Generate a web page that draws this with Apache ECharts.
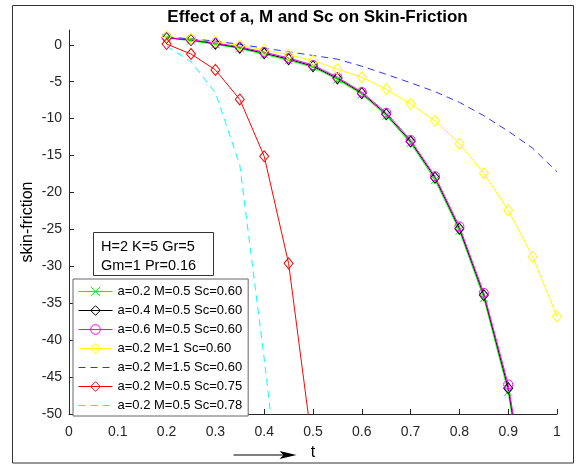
<!DOCTYPE html>
<html>
<head>
<meta charset="utf-8">
<title>Skin-Friction</title>
<script src="https://cdn.jsdelivr.net/npm/echarts@6/dist/echarts.min.js"></script>
<style>
  html, body { margin: 0; padding: 0; background: #fff; }
  #skinFriction { width: 578px; height: 466px; }
</style>
</head>
<body>
<div id="skinFriction"></div>
<script>
// values, t = 0.2 ... 1.0 step 0.05
const tValues = [0.2, 0.25, 0.3, 0.35, 0.4, 0.45, 0.5, 0.55, 0.6, 0.65, 0.7, 0.75, 0.8, 0.85, 0.9, 0.95, 1.0];
const a02M05 = [0.9, 0.55, 0.05, -0.5, -1.3, -2.1, -3.05, -4.7, -6.7, -9.6, -13.3, -18.3, -25.2, -34.3, -47.0, -68, -96];
const a04M05 = [0.95, 0.65, 0.15, -0.4, -1.15, -1.95, -2.9, -4.55, -6.55, -9.4, -13.1, -18.0, -24.9, -33.9, -46.5, -67, -94];
const a06M05 = [1.0, 0.7, 0.25, -0.3, -1.0, -1.8, -2.75, -4.4, -6.4, -9.2, -12.9, -17.8, -24.6, -33.6, -46.0, -66, -93];
const a02M1 = [1.1, 0.8, 0.45, -0.1, -0.7, -1.35, -2.15, -3.3, -4.4, -6.0, -8.0, -10.3, -13.4, -17.4, -22.4, -28.7, -36.8];
const a02M15 = [1.05, 0.8, 0.5, 0.05, -0.45, -0.95, -1.45, -1.95, -2.9, -4.0, -5.15, -6.35, -7.8, -9.6, -11.7, -14.0, -17.2];
const sc075 = [0.1, -1.25, -3.4, -7.4, -15.1, -29.6, -55];
const sc078 = [-0.2, -2.3, -6.5, -16.3, -42.5, -71];

const seriesNames = [
    'a=0.2 M=0.5 Sc=0.60',
    'a=0.4 M=0.5 Sc=0.60',
    'a=0.6 M=0.5 Sc=0.60',
    'a=0.2 M=1 Sc=0.60',
    'a=0.2 M=1.5 Sc=0.60',
    'a=0.2 M=0.5 Sc=0.75',
    'a=0.2 M=0.5 Sc=0.78'
];
const xTicks = [0, 0.1, 0.2, 0.3, 0.4, 0.5, 0.6, 0.7, 0.8, 0.9, 1];
const yTicks = [-50, -45, -40, -35, -30, -25, -20, -15, -10, -5, 0];
const paramLines = ['H=2 K=5 Gr=5', 'Gm=1 Pr=0.16'];

document.addEventListener('DOMContentLoaded', function() {
    const chart = echarts.init(document.getElementById('skinFriction'));

    function pairs(ys) {
        return ys.map(function(y, i) { return [tValues[i], y]; });
    }

    // markers are hollow like the matlab ones, the line shows through
    function curve(name, ys, color, symbol, size, dash) {
        return {
            name: name,
            type: 'line',
            data: pairs(ys),
            symbol: symbol || 'circle',
            showSymbol: !!symbol,
            symbolSize: size || 8,
            clip: true,
            animation: false,
            lineStyle: { color: color, width: 1, type: dash || 'solid' },
            itemStyle: {
                color: 'rgba(0,0,0,0)',
                borderColor: symbol ? color : 'rgba(0,0,0,0)',
                borderWidth: symbol ? 1 : 0
            }
        };
    }

    const crossMark = 'path://M0,0L10,10M10,0L0,10';

    const option = {
        animation: false,
        title: {
            text: 'Effect of a, M and Sc on Skin-Friction',
            left: 312.5,
            top: 4,
            textAlign: 'center',
            textStyle: { fontFamily: 'Liberation Sans', fontSize: 17, fontWeight: 'bold', color: '#000' }
        },
        grid: { left: 69, right: 21, top: 30, bottom: 48.5 },
        legend: {
            orient: 'vertical',
            left: 73,
            top: 279,
            data: seriesNames,
            itemWidth: 34,
            itemHeight: 12,
            itemGap: 4,
            padding: [5, 6, 3, 5],
            borderColor: '#666',
            borderWidth: 1,
            backgroundColor: '#fff',
            selectedMode: false,
            lineStyle: { width: 1 },
            itemStyle: { borderWidth: 1 },
            textStyle: { fontFamily: 'Liberation Sans', fontSize: 13, color: '#000', lineHeight: 15 }
        },
        xAxis: {
            type: 'value',
            min: 0,
            max: 1,
            name: 't',
            nameLocation: 'middle',
            nameGap: 31,
            nameMoveOverlap: false,
            nameTextStyle: { fontFamily: 'Liberation Sans', fontSize: 16, color: '#000' },
            axisLine: { onZero: false, lineStyle: { color: '#262626' } },
            axisTick: { inside: true, length: 5, customValues: xTicks, lineStyle: { color: '#262626' } },
            axisLabel: { customValues: xTicks, margin: 11, fontFamily: 'Liberation Sans', fontSize: 14, color: '#262626' },
            splitLine: { show: false }
        },
        yAxis: {
            type: 'value',
            min: -50,
            max: 2,
            name: 'skin-friction',
            nameLocation: 'middle',
            nameGap: 33,
            nameMoveOverlap: false,
            nameTextStyle: { fontFamily: 'Liberation Sans', fontSize: 16, color: '#000' },
            axisLine: { show: true, onZero: false, lineStyle: { color: '#262626' } },
            axisTick: { show: true, inside: true, length: 5, customValues: yTicks, lineStyle: { color: '#262626' } },
            axisLabel: { customValues: yTicks, margin: 7, fontFamily: 'Liberation Sans', fontSize: 14, color: '#262626' },
            splitLine: { show: false }
        },
        graphic: [
            {
                // figure frame
                type: 'rect',
                shape: { x: 12.5, y: 5.5, width: 561, height: 457.5 },
                style: { fill: 'none', stroke: '#333', lineWidth: 1 },
                silent: true
            },
            {
                type: 'group',
                left: 93,
                top: 232,
                z: 100,
                children: [
                    {
                        type: 'rect',
                        shape: { x: 0.5, y: 0.5, width: 120, height: 43 },
                        style: { fill: '#fff', stroke: '#333', lineWidth: 1 }
                    },
                    {
                        type: 'text',
                        x: 8,
                        y: 6,
                        style: {
                            text: paramLines.join('\n'),
                            fontFamily: 'Liberation Sans',
                            fontSize: 14.5,
                            lineHeight: 18.5,
                            fill: '#000'
                        }
                    }
                ]
            },
            {
                // arrow next to the t label
                type: 'group',
                left: 231,
                top: 451,
                children: [
                    {
                        type: 'line',
                        shape: { x1: 0, y1: 4, x2: 52, y2: 4 },
                        style: { stroke: '#000', lineWidth: 1 }
                    },
                    {
                        type: 'polygon',
                        shape: { points: [[46, 0], [63, 4], [46, 8], [50, 4]] },
                        style: { fill: '#000' }
                    }
                ]
            }
        ],
        series: [
            curve(seriesNames[0], a02M05, '#00ff00', crossMark, 8),
            curve(seriesNames[1], a04M05, '#000000', 'diamond', [9, 11]),
            curve(seriesNames[2], a06M05, '#ff00ff', 'circle', 9),
            curve(seriesNames[3], a02M1, '#ffff00', 'diamond', [9, 11]),
            curve(seriesNames[4], a02M15, '#3333ff', null, 8, [7, 5]),
            curve(seriesNames[5], sc075, '#ff0000', 'diamond', [9, 11]),
            curve(seriesNames[6], sc078, '#00ffff', null, 8, [7, 5])
        ]
    };

    chart.setOption(option);

    window.addEventListener('resize', function() {
        chart.resize();
    });
});
</script>
</body>
</html>
